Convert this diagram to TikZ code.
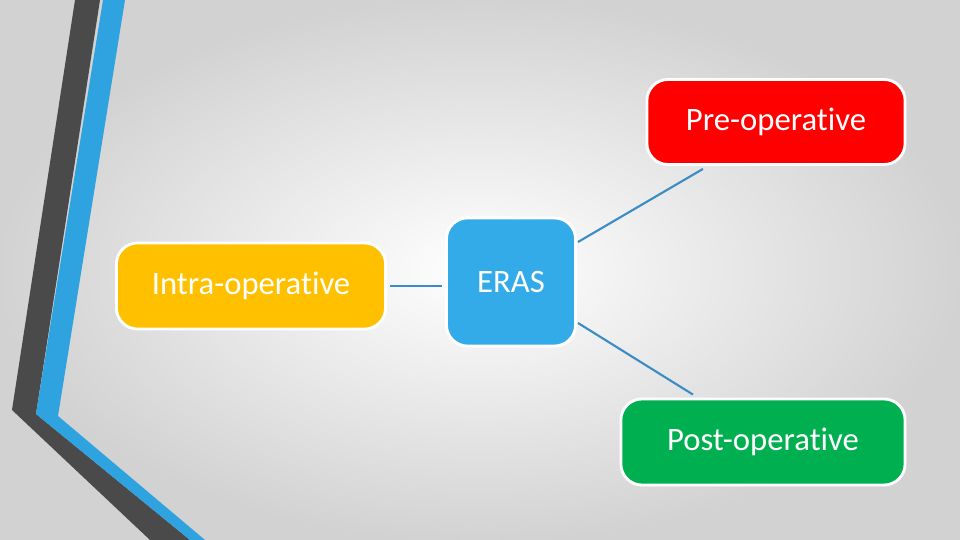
\documentclass[tikz,border=0pt]{standalone}
\usepackage{fontspec}
\setmainfont{Carlito}[Ligatures=NoCommon]
\usetikzlibrary{positioning}
\definecolor{preRed}{HTML}{FF0000}
\definecolor{intraYellow}{HTML}{FFC000}
\definecolor{erasBlue}{HTML}{33ABE9}
\definecolor{postGreen}{HTML}{00B050}
\definecolor{lineBlue}{HTML}{3A8CC4}
\definecolor{stripeDark}{HTML}{4A4A4A}
\definecolor{stripeBlue}{HTML}{2FA3E0}
\begin{document}
\begin{tikzpicture}[x=0.01cm,y=-0.01cm,
        phase/.style={draw=white,line width=0.8pt,rounded corners=6pt,text=white,
            font=\fontsize{9.3}{11}\selectfont,inner sep=0pt},
        link/.style={draw=lineBlue,line width=0.6pt}]
    \shade[inner color=white,outer color=gray!35] (0,0) rectangle (960,540);
    \useasboundingbox (0,0) rectangle (960,540);
    % left stripes
    \fill[stripeDark] (75,0) -- (100,0) -- (36,414) -- (190,540) -- (150,540) -- (12,410) -- cycle;
    \fill[stripeBlue] (103,0) -- (125,0) -- (58,416) -- (205,540) -- (190,540) -- (36,414) -- cycle;
    % phases
    \node (pre) [phase,fill=preRed,minimum width=2.58cm,minimum height=0.85cm] at (776,122) {Pre-operative};
    \node (intra) [phase,fill=intraYellow,minimum width=2.69cm,minimum height=0.86cm] at (251,286) {Intra-operative};
    \node (eras) [phase,fill=erasBlue,minimum width=1.29cm,minimum height=1.28cm] at (511,282) {ERAS};
    \node (post) [phase,fill=postGreen,minimum width=2.84cm,minimum height=0.86cm] at (763,442) {Post-operative};
    % connectors
    \coordinate (erasNE) at (578,242);
    \coordinate (erasSE) at (578,323);
    \draw[link] (erasNE) -- ([xshift=-0.73cm,yshift=-0.03cm]pre.south);
    \draw[link] (erasSE) -- ([xshift=-0.7cm,yshift=0.03cm]post.north);
    \draw[link] ([xshift=0.03cm]intra.east) -- ([xshift=-0.03cm]intra.east -| eras.west);
\end{tikzpicture}
\end{document}
